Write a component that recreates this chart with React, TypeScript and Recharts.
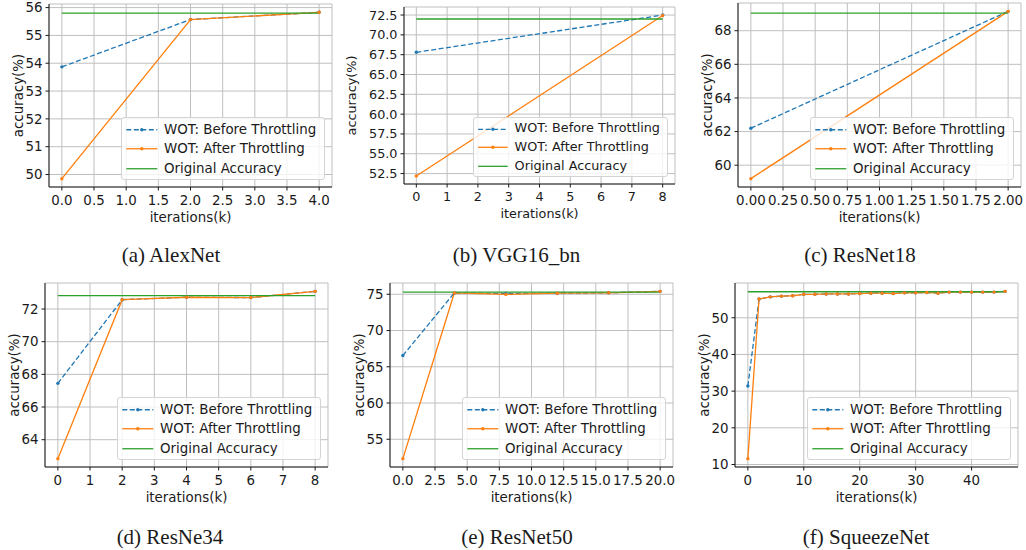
import React from 'react';
import { LineChart, Line, XAxis, YAxis, CartesianGrid, ReferenceArea } from 'recharts';

// ---- data ----
const alexIters = [0, 2, 4];
const alexBefore = [53.87, 55.57, 55.83];
const alexAfter = [49.85, 55.57, 55.83];
const alexOriginal = 55.8;
const alexXTicks = [0, 0.5, 1, 1.5, 2, 2.5, 3, 3.5, 4];
const alexYTicks = [50, 51, 52, 53, 54, 55, 56];

const vggIters = [0, 8];
const vggBefore = [67.8, 72.5];
const vggAfter = [52.2, 72.45];
const vggOriginal = 72.0;
const vggXTicks = [0, 1, 2, 3, 4, 5, 6, 7, 8];
const vggYTicks = [52.5, 55, 57.5, 60, 62.5, 65, 67.5, 70, 72.5];

const r18Iters = [0, 2];
const r18Before = [62.2, 69.15];
const r18After = [59.2, 69.15];
const r18Original = 69.05;
const r18XTicks = [0, 0.25, 0.5, 0.75, 1, 1.25, 1.5, 1.75, 2];
const r18YTicks = [60, 62, 64, 66, 68];

const r34Iters = [0, 2, 4, 6, 8];
const r34Before = [67.45, 72.57, 72.72, 72.7, 73.08];
const r34After = [62.84, 72.57, 72.72, 72.7, 73.08];
const r34Original = 72.82;
const r34XTicks = [0, 1, 2, 3, 4, 5, 6, 7, 8];
const r34YTicks = [64, 66, 68, 70, 72];

const r50Iters = [0, 4, 8, 12, 16, 20];
const r50Before = [66.55, 75.18, 75.1, 75.15, 75.2, 75.4];
const r50After = [52.33, 75.18, 74.98, 75.15, 75.2, 75.4];
const r50Original = 75.3;
const r50XTicks = [0, 2.5, 5, 7.5, 10, 12.5, 15, 17.5, 20];
const r50YTicks = [55, 60, 65, 70, 75];

const sqzIters = [0, 2, 4, 6, 8, 10, 12, 14, 16, 18, 20, 22, 24, 26, 28, 30, 32, 34, 36, 38, 40, 42, 44, 46];
const sqzBefore = [31.4, 55.1, 55.7, 55.9, 56.0, 56.4, 56.4, 56.5, 56.5, 56.5, 56.6, 56.7, 56.7, 56.6, 56.8, 56.8, 56.9, 56.7, 57.0, 57.0, 57.0, 57.0, 57.0, 57.2];
const sqzAfter = [11.6, 55.1, 55.7, 55.9, 56.0, 56.4, 56.4, 56.5, 56.5, 56.5, 56.6, 56.7, 56.7, 56.6, 56.8, 56.8, 56.9, 56.7, 57.0, 57.0, 57.0, 57.0, 57.0, 57.2];
const sqzOriginal = 57.1;
const sqzXTicks = [0, 10, 20, 30, 40];
const sqzYTicks = [10, 20, 30, 40, 50];

const captions = ['(a) AlexNet', '(b) VGG16_bn', '(c) ResNet18', '(d) ResNe34', '(e) ResNet50', '(f) SqueezeNet'];
const legendLabels = ['WOT: Before Throttling', 'WOT: After Throttling', 'Original Accuracy'];

const BLUE = '#1f77b4';
const ORANGE = '#ff7f0e';
const GREEN = '#2ca02c';
const INK = '#1a1a1a';
const FONT = '"DejaVu Sans", sans-serif';

// matplotlib-style 5% margins
const padded = (vals: number[]): [number, number] => {
  const lo = Math.min(...vals);
  const hi = Math.max(...vals);
  const pad = (hi - lo) * 0.05;
  return [lo - pad, hi + pad];
};

type PanelProps = {
  iters: number[];
  before: number[];
  after: number[];
  original: number;
  xTicks: number[];
  yTicks: number[];
  xFmt: (v: number) => string;
  yFmt: (v: number) => string;
  plot: { x: number; y: number; w: number; h: number };
  yw: number;
  s?: number;
};

const Panel = ({ iters, before, after, original, xTicks, yTicks, xFmt, yFmt, plot, yw, s = 1 }: PanelProps) => {
  const data = iters.map((it, i) => ({ iter: it, before: before[i], after: after[i], original }));
  const xDomain = padded(iters);
  const yDomain = padded([...before, ...after, original]);
  const small = s !== 1;
  const fs = 13.4 * s;
  const top = 5;
  const xh = 44;
  const tickStyle = { fill: INK, fontSize: fs, fontFamily: FONT };
  const lw = 204 * s;
  const lh = 63 * s;

  return (
    <>
      <div style={{ position: 'absolute', left: plot.x - yw, top: plot.y - top }}>
        <LineChart
          width={yw + plot.w + 6}
          height={top + plot.h + xh}
          data={data}
          margin={{ top, right: 6, bottom: 0, left: 0 }}
        >
          <CartesianGrid stroke="#bfbfbf" strokeWidth={1} />
          <XAxis
            type="number"
            dataKey="iter"
            domain={xDomain}
            ticks={xTicks}
            tickFormatter={xFmt}
            height={xh}
            tick={tickStyle}
            tickSize={3.5}
            tickMargin={4.5}
            tickLine={{ stroke: INK }}
            axisLine={{ stroke: INK }}
            interval={0}
            label={{ value: 'iterations(k)', position: 'insideBottom', offset: small ? 10 : 9, fill: INK, fontSize: fs, fontFamily: FONT }}
          />
          <YAxis
            type="number"
            domain={yDomain}
            ticks={yTicks}
            tickFormatter={yFmt}
            width={yw}
            tick={tickStyle}
            tickSize={3.5}
            tickMargin={3}
            tickLine={{ stroke: INK }}
            axisLine={{ stroke: INK }}
            interval={0}
            label={{
              value: 'accuracy(%)',
              angle: -90,
              position: 'insideLeft',
              offset: small ? yw - 52.5 : yw - 31,
              fill: INK,
              fontSize: fs,
              fontFamily: FONT,
              style: { textAnchor: 'middle' },
            }}
          />
          <ReferenceArea fill="none" fillOpacity={0} stroke={INK} strokeWidth={1} ifOverflow="visible" />
          <Line
            dataKey="before"
            stroke={BLUE}
            strokeWidth={1.3}
            strokeDasharray="5 2.5"
            dot={{ r: 1.7, fill: BLUE, stroke: BLUE, strokeWidth: 0 }}
            isAnimationActive={false}
          />
          <Line
            dataKey="after"
            stroke={ORANGE}
            strokeWidth={1.3}
            dot={{ r: 1.7, fill: ORANGE, stroke: ORANGE, strokeWidth: 0 }}
            isAnimationActive={false}
          />
          <Line dataKey="original" stroke={GREEN} strokeWidth={1.3} dot={false} isAnimationActive={false} />
        </LineChart>
      </div>
      <div
        style={{
          position: 'absolute',
          left: plot.x + plot.w - 7 * s - lw,
          top: plot.y + plot.h - 7 * s - lh,
          width: lw,
          height: lh,
          boxSizing: 'border-box',
          border: '1px solid #d4d4d4',
          borderRadius: 3 * s,
          background: 'rgba(255,255,255,0.8)',
          paddingTop: 1.5 * s,
          fontFamily: FONT,
          fontSize: fs,
          color: INK,
        }}
      >
        {legendLabels.map((label, i) => {
          const color = [BLUE, ORANGE, GREEN][i];
          const cy = 9.75 * s;
          return (
            <div key={label} style={{ height: 19.5 * s, display: 'flex', alignItems: 'center', whiteSpace: 'nowrap' }}>
              <svg width={42 * s} height={19.5 * s} style={{ flex: 'none' }}>
                <line
                  x1={4.3 * s}
                  x2={35.3 * s}
                  y1={cy}
                  y2={cy}
                  stroke={color}
                  strokeWidth={1.3}
                  strokeDasharray={i === 0 ? '5 2.5' : undefined}
                />
                {i < 2 && <circle cx={19.8 * s} cy={cy} r={1.7} fill={color} />}
              </svg>
              <span style={{ lineHeight: 1 }}>{label}</span>
            </div>
          );
        })}
      </div>
    </>
  );
};

const Caption = ({ text, cx, cy }: { text: string; cx: number; cy: number }) => (
  <div
    style={{
      position: 'absolute',
      left: cx - 150,
      top: cy - 12.5,
      width: 300,
      height: 24,
      lineHeight: '24px',
      textAlign: 'center',
      fontFamily: '"Liberation Serif", "Times New Roman", serif',
      fontSize: 21,
      color: INK,
    }}
  >
    {text}
  </div>
);

const f1 = (v: number) => v.toFixed(1);
const f2 = (v: number) => v.toFixed(2);
const f0 = (v: number) => String(v);

export default function App() {
  return (
    <div style={{ position: 'absolute', left: 0, top: 0, width: 1026, height: 550, background: '#fff', overflow: 'hidden' }}>
      <Panel iters={alexIters} before={alexBefore} after={alexAfter} original={alexOriginal}
        xTicks={alexXTicks} yTicks={alexYTicks} xFmt={f1} yFmt={f0}
        plot={{ x: 49, y: 4, w: 283, h: 183 }} yw={48} />
      <Panel iters={vggIters} before={vggBefore} after={vggAfter} original={vggOriginal}
        xTicks={vggXTicks} yTicks={vggYTicks} xFmt={f0} yFmt={f1}
        plot={{ x: 404, y: 7, w: 271, h: 177 }} yw={64} s={0.955} />
      <Panel iters={r18Iters} before={r18Before} after={r18After} original={r18Original}
        xTicks={r18XTicks} yTicks={r18YTicks} xFmt={f2} yFmt={f0}
        plot={{ x: 738, y: 3, w: 283, h: 184 }} yw={48} />
      <Panel iters={r34Iters} before={r34Before} after={r34After} original={r34Original}
        xTicks={r34XTicks} yTicks={r34YTicks} xFmt={f0} yFmt={f0}
        plot={{ x: 45, y: 283, w: 283, h: 184 }} yw={48} />
      <Panel iters={r50Iters} before={r50Before} after={r50After} original={r50Original}
        xTicks={r50XTicks} yTicks={r50YTicks} xFmt={f1} yFmt={f0}
        plot={{ x: 390, y: 283, w: 283, h: 184 }} yw={48} />
      <Panel iters={sqzIters} before={sqzBefore} after={sqzAfter} original={sqzOriginal}
        xTicks={sqzXTicks} yTicks={sqzYTicks} xFmt={f0} yFmt={f0}
        plot={{ x: 735, y: 283, w: 283, h: 184 }} yw={48} />

      <Caption text={captions[0]} cx={171} cy={255} />
      <Caption text={captions[1]} cx={516.5} cy={255} />
      <Caption text={captions[2]} cx={860} cy={255} />
      <Caption text={captions[3]} cx={170} cy={537} />
      <Caption text={captions[4]} cx={517} cy={537} />
      <Caption text={captions[5]} cx={866} cy={537} />
    </div>
  );
}
